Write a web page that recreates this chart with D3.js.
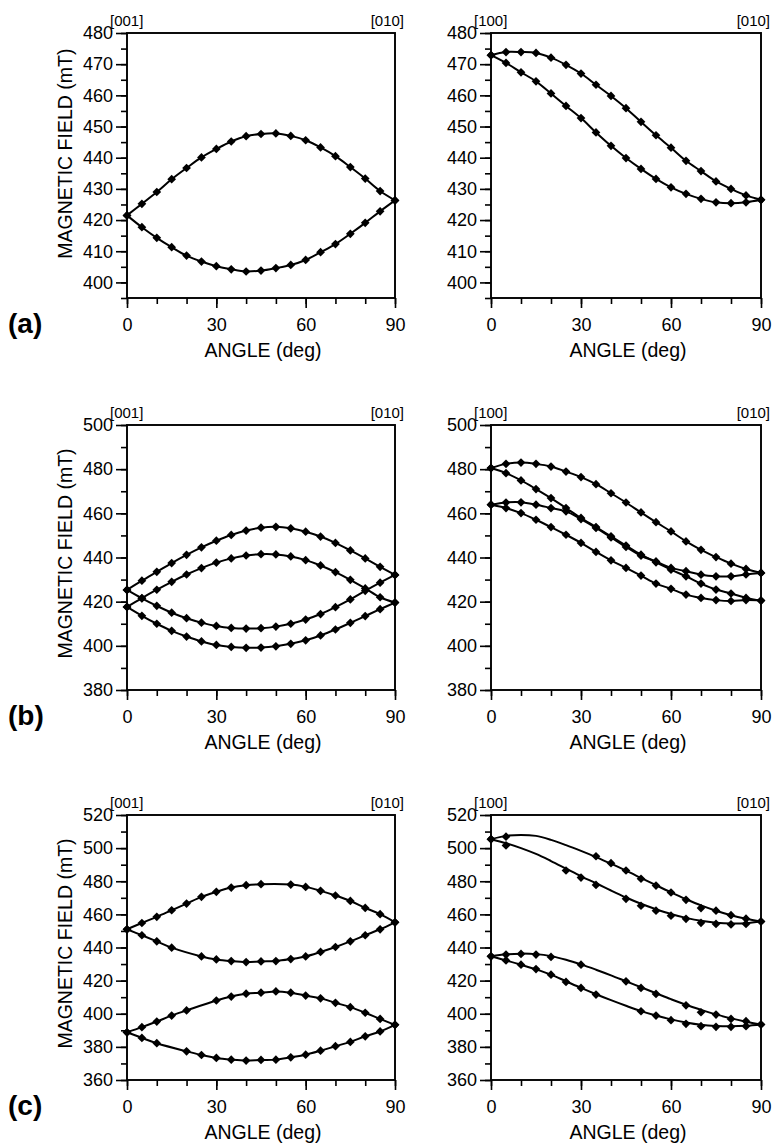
<!DOCTYPE html>
<html><head><meta charset="utf-8">
<script src="https://cdn.jsdelivr.net/npm/d3@7"></script>
<style>
body{margin:0;background:#fff}
svg{display:block}
text{font-family:"Liberation Sans",Arial,Helvetica,sans-serif;fill:#000}
</style>
</head><body>
<svg id="chart" width="778" height="1146"></svg>
<script>
// ---------- data ----------
const angles = [0,5,10,15,20,25,30,35,40,45,50,55,60,65,70,75,80,85,90];
const xTicks = [0,30,60,90];
const xMinorTicks = [0,10,20,30,40,50,60,70,80,90];
const yTicksA = [400,410,420,430,440,450,460,470,480];
const yTicksB = [380,400,420,440,460,480,500];
const yTicksC = [360,380,400,420,440,460,480,500,520];
const rowLabels = ["(a)","(b)","(c)"];
const leftDirs = ["[001]","[010]"];
const rightDirs = ["[100]","[010]"];

// (a) left
const aLeft1 = [421.5,425.2,429.0,433.1,436.7,440.1,442.8,445.2,446.9,447.6,447.8,447.0,445.6,443.3,440.5,437.0,433.3,429.3,426.3];
const aLeft2 = [421.5,417.7,414.3,411.3,408.6,406.7,405.2,404.2,403.5,403.8,404.6,405.6,407.2,409.7,412.3,415.6,419.1,422.8,426.3];
// (a) right
const aRight1 = [472.9,473.9,473.9,473.6,472.1,469.8,467.0,463.4,459.8,455.9,451.5,447.2,443.2,439.0,435.7,432.4,430.0,427.9,426.5];
const aRight2 = [472.9,470.4,467.4,464.5,460.6,456.6,452.7,448.1,443.8,439.9,436.4,433.2,430.5,428.4,426.8,425.7,425.4,425.7,426.5];
// (b) left
const bLeft1 = [425.3,429.5,433.5,437.5,441.2,444.6,447.6,450.2,452.2,453.5,453.9,453.2,451.7,449.5,446.6,443.2,439.6,435.8,432.1];
const bLeft2 = [417.6,421.6,425.4,429.0,432.3,435.2,437.7,439.6,440.9,441.5,441.4,440.5,438.8,436.4,433.4,429.9,426.0,422.0,419.6];
const bLeft3 = [425.3,421.5,418.1,415.0,412.5,410.5,409.0,408.1,407.8,408.0,408.7,410.0,411.9,414.4,417.5,421.0,424.9,428.6,432.1];
const bLeft4 = [417.6,413.6,410.0,406.8,404.2,402.0,400.4,399.5,399.1,399.2,399.8,400.9,402.5,404.7,407.4,410.4,413.5,416.6,419.6];
// (b) right
const bRight1 = [480.5,482.4,483.0,482.4,481.2,478.9,476.4,473.2,469.1,464.9,460.4,456.0,451.8,447.3,443.5,440.2,437.2,434.8,433.0];
const bRight2 = [480.5,478.2,474.9,471.0,466.9,462.4,457.9,453.8,449.6,445.4,441.3,437.8,434.5,431.5,428.2,425.5,423.7,421.7,420.5];
const bRight3 = [463.9,464.9,465.0,463.9,462.4,460.9,457.4,453.4,449.1,444.8,440.8,438.2,435.3,433.8,432.2,431.5,431.5,432.3,433.0];
const bRight4 = [463.9,462.4,460.1,457.1,453.8,450.3,446.6,442.5,438.7,435.3,431.8,428.2,425.8,423.2,421.7,420.7,420.3,420.7,420.5];
// (c) left
const cLeft1 = [451.0,454.8,458.5,462.5,466.5,470.6,473.6,476.2,477.6,478.2,null,478.0,476.6,474.2,471.4,468.1,463.9,460.1,455.2];
const cLeft2 = [451.0,447.4,443.7,439.9,null,434.6,432.8,431.8,431.2,431.6,431.8,433.0,434.6,437.3,440.3,443.7,447.4,451.0,455.2];
const cLeft3 = [388.8,391.9,395.3,398.9,402.0,null,408.0,410.4,412.1,412.7,413.5,412.7,411.0,409.3,406.6,404.0,400.6,396.9,393.3];
const cLeft4 = [388.8,385.4,382.2,null,377.3,375.1,373.3,372.3,371.7,372.1,372.3,373.7,375.3,377.7,380.4,383.0,386.4,389.3,393.3];
// (c) right: measured points and fitted curves
const cRight1 = [505.4,506.9,null,null,null,null,null,495.1,490.9,486.5,481.5,477.4,473.2,468.8,463.8,462.2,459.5,457.4,455.7];
const cRight2 = [505.4,501.6,null,null,null,486.5,482.2,477.8,null,469.4,465.2,462.2,459.2,457.3,454.9,454.2,453.9,454.2,455.7];
const cRight3 = [434.7,435.7,436.1,435.7,434.3,null,429.6,null,null,419.6,415.6,412.0,null,405.1,400.9,399.5,396.9,395.5,393.5];
const cRight4 = [434.7,432.2,429.6,427.0,423.6,419.2,415.6,411.6,null,null,401.5,398.9,396.1,393.9,392.5,392.1,392.1,392.5,393.5];
const cRight1Fit = [505.4,507.4,508.0,507.4,505.0,501.8,498.3,494.6,490.6,486.4,482.0,477.6,473.3,469.2,465.4,462.2,459.5,457.4,455.7];
const cRight2Fit = [505.4,503.0,500.0,496.5,492.2,487.6,483.0,478.8,474.4,470.2,466.4,463.1,460.2,457.9,456.1,455.0,454.5,454.7,455.7];
const cRight3Fit = [434.7,435.9,436.3,436.0,434.8,432.6,429.8,426.6,423.2,419.6,416.0,412.4,408.8,405.4,402.4,399.6,397.2,395.2,393.5];
const cRight4Fit = [434.7,432.2,429.6,426.8,423.6,419.6,415.6,411.8,408.2,404.8,401.6,398.9,396.6,394.7,393.3,392.6,392.4,392.7,393.5];

// ---------- layout ----------
const colX = [[127,395],[491,761]];
const rowY = [[33,298],[425,690],[815,1080]];
const rowDomains = [[395,480],[380,500],[360,520]];
const rowTicks = [yTicksA, yTicksB, yTicksC];
const rowMinorStep = [5,10,10];

const panels = [
  {r:0,c:0,dirs:leftDirs, series:[{p:aLeft1},{p:aLeft2}]},
  {r:0,c:1,dirs:rightDirs,series:[{p:aRight1},{p:aRight2}]},
  {r:1,c:0,dirs:leftDirs, series:[{p:bLeft1},{p:bLeft2},{p:bLeft3},{p:bLeft4}]},
  {r:1,c:1,dirs:rightDirs,series:[{p:bRight1},{p:bRight2},{p:bRight3},{p:bRight4}]},
  {r:2,c:0,dirs:leftDirs, series:[{p:cLeft1},{p:cLeft2},{p:cLeft3},{p:cLeft4}]},
  {r:2,c:1,dirs:rightDirs,series:[{p:cRight1,f:cRight1Fit},{p:cRight2,f:cRight2Fit},{p:cRight3,f:cRight3Fit},{p:cRight4,f:cRight4Fit}]}
];

const svg = d3.select("#chart");
const diamond = d3.symbol().type(d3.symbolSquare).size(38);
const FONT = '"Liberation Sans",Arial,sans-serif';

panels.forEach(P => {
  const [x0,x1] = colX[P.c], [y0,y1] = rowY[P.r];
  const dom = rowDomains[P.r];
  const x = d3.scaleLinear().domain([0,90]).range([x0,x1]);
  const y = d3.scaleLinear().domain(dom).range([y1,y0]);
  const g = svg.append("g");

  // minor ticks
  const minorY = [];
  for (let v = dom[0]; v <= dom[1] + 1e-9; v += rowMinorStep[P.r]) minorY.push(v);
  g.append("g").attr("transform",`translate(${x0},0)`)
    .call(d3.axisLeft(y).tickValues(minorY).tickSize(6).tickSizeOuter(0).tickFormat(""))
    .call(s=>s.select(".domain").remove())
    .call(s=>s.selectAll("line").attr("stroke","#000").attr("stroke-width",1.6));
  g.append("g").attr("transform",`translate(0,${y1})`)
    .call(d3.axisBottom(x).tickValues(xMinorTicks).tickSize(6).tickSizeOuter(0).tickFormat(""))
    .call(s=>s.select(".domain").remove())
    .call(s=>s.selectAll("line").attr("stroke","#000").attr("stroke-width",1.6));

  // major ticks + labels
  g.append("g").attr("transform",`translate(${x0},0)`)
    .call(d3.axisLeft(y).tickValues(rowTicks[P.r]).tickSize(11).tickPadding(3).tickSizeOuter(0))
    .call(s=>s.select(".domain").remove())
    .call(s=>s.selectAll("line").attr("stroke","#000").attr("stroke-width",1.6))
    .call(s=>s.selectAll("text").attr("font-size",18).attr("font-family",FONT).attr("fill","#000"));
  g.append("g").attr("transform",`translate(0,${y1})`)
    .call(d3.axisBottom(x).tickValues(xTicks).tickSize(10).tickPadding(10).tickSizeOuter(0))
    .call(s=>s.select(".domain").remove())
    .call(s=>s.selectAll("line").attr("stroke","#000").attr("stroke-width",1.6))
    .call(s=>s.selectAll("text").attr("font-size",18).attr("font-family",FONT).attr("fill","#000"));

  // frame
  g.append("rect").attr("x",x0).attr("y",y0).attr("width",x1-x0).attr("height",y1-y0)
    .attr("fill","none").attr("stroke","#000").attr("stroke-width",1.9);

  // direction labels
  g.append("text").attr("x",x0-17).attr("y",y0-7).attr("font-size",15).text(P.dirs[0]);
  g.append("text").attr("x",x1+9).attr("y",y0-7).attr("font-size",15).attr("text-anchor","end").text(P.dirs[1]);

  // x title
  g.append("text").attr("x",(x0+x1)/2 + 2).attr("y",y1+59).attr("font-size",19.5)
    .attr("text-anchor","middle").text("ANGLE (deg)");

  // y title & row label on left panels
  if (P.c === 0) {
    const t = rowTicks[P.r];
    const cy = (y(t[0]) + y(t[t.length-1]))/2 - 4;
    g.append("text").attr("transform",`translate(72,${cy}) rotate(-90)`)
      .attr("font-size",19.5).attr("text-anchor","middle").text("MAGNETIC FIELD (mT)");
    g.append("text").attr("x",8).attr("y",y1+35)
      .attr("font-family",'"Liberation Serif","Times New Roman",serif')
      .attr("font-weight","bold").attr("font-size",28).text(rowLabels[P.r]);
  }

  // series
  const line = d3.line().x(d=>x(d[0])).y(d=>y(d[1])).curve(d3.curveCatmullRom.alpha(0.5));
  P.series.forEach(S => {
    const pts = angles.map((a,i)=>[a,S.p[i]]).filter(d=>d[1]!==null);
    const fitPts = S.f ? angles.map((a,i)=>[a,S.f[i]]) : pts;
    g.append("path").attr("d",line(fitPts)).attr("fill","none")
      .attr("stroke","#000").attr("stroke-width",2);
    g.selectAll(null).data(pts).enter().append("path")
      .attr("d",diamond)
      .attr("transform",d=>`translate(${x(d[0])},${y(d[1])}) rotate(45)`)
      .attr("fill","#000");
  });
});
</script>
</body></html>
